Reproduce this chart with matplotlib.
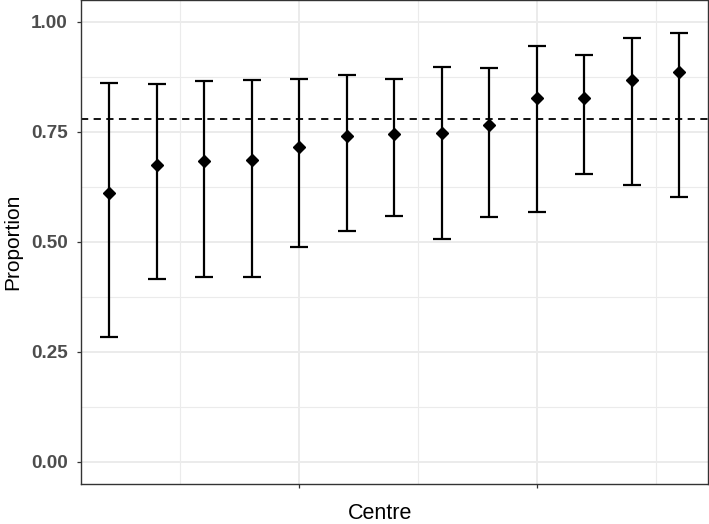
import numpy as np
from matplotlib import pyplot as plt

# per-centre proportion with confidence interval
centre = np.arange(1, 14)
prop = [0.611, 0.675, 0.684, 0.687, 0.716, 0.740, 0.745, 0.748, 0.767, 0.827, 0.827, 0.869, 0.886]
lower = [0.283, 0.416, 0.420, 0.420, 0.488, 0.526, 0.558, 0.506, 0.556, 0.568, 0.655, 0.630, 0.603]
upper = [0.861, 0.858, 0.867, 0.869, 0.870, 0.880, 0.871, 0.897, 0.896, 0.945, 0.924, 0.963, 0.975]
overall = 0.780

yticks = [0.00, 0.25, 0.50, 0.75, 1.00]
ytick_labels = ["0.00", "0.25", "0.50", "0.75", "1.00"]

plt.rcParams['font.family'] = ['Liberation Sans', 'DejaVu Sans']

fig = plt.figure(figsize=(7.09, 5.24), dpi=100)
ax = fig.add_axes([80.5 / 709, 1 - 484 / 524, (708 - 80.5) / 709, 484 / 524])

prop = np.array(prop)
err = [prop - np.array(lower), np.array(upper) - prop]
ax.errorbar(centre, prop, yerr=err, fmt='none', ecolor='black', elinewidth=1.6,
            capsize=6.2, capthick=1.6, zorder=3)
ax.plot(centre, prop, linestyle='none', marker='D', markersize=6.5, color='black', zorder=4)
ax.axhline(overall, color='black', linestyle=(0, (4, 3)), linewidth=1.3, zorder=2)

ax.set_xlim(0.4, 13.6)
ax.set_ylim(-0.05, 1.05)

ax.set_xticks([5, 10])
ax.set_xticklabels(["", ""])
ax.set_xticks([2.5, 7.5, 12.5], minor=True)
ax.set_yticks(yticks)
ax.set_yticklabels(ytick_labels, fontsize=13.6, fontweight='bold', color='#4D4D4D')
ax.set_yticks([0.125, 0.375, 0.625, 0.875], minor=True)

ax.tick_params(which='major', length=3, width=0.9, color='#333333', pad=6)
ax.tick_params(which='minor', length=0)

ax.grid(which='major', color='#EBEBEB', linewidth=1.4, zorder=0)
ax.grid(which='minor', color='#EBEBEB', linewidth=0.8, zorder=0)
ax.set_axisbelow(True)

for s in ax.spines.values():
    s.set_color('#333333')
    s.set_linewidth(1.0)

ax.set_xlabel("Centre", fontsize=15.5)
ax.set_ylabel("Proportion", fontsize=15)
ax.xaxis.set_label_coords(0.477, -0.039)
ax.yaxis.set_label_coords(-0.093, 0.5)

fig.savefig("out.png", dpi=100)
